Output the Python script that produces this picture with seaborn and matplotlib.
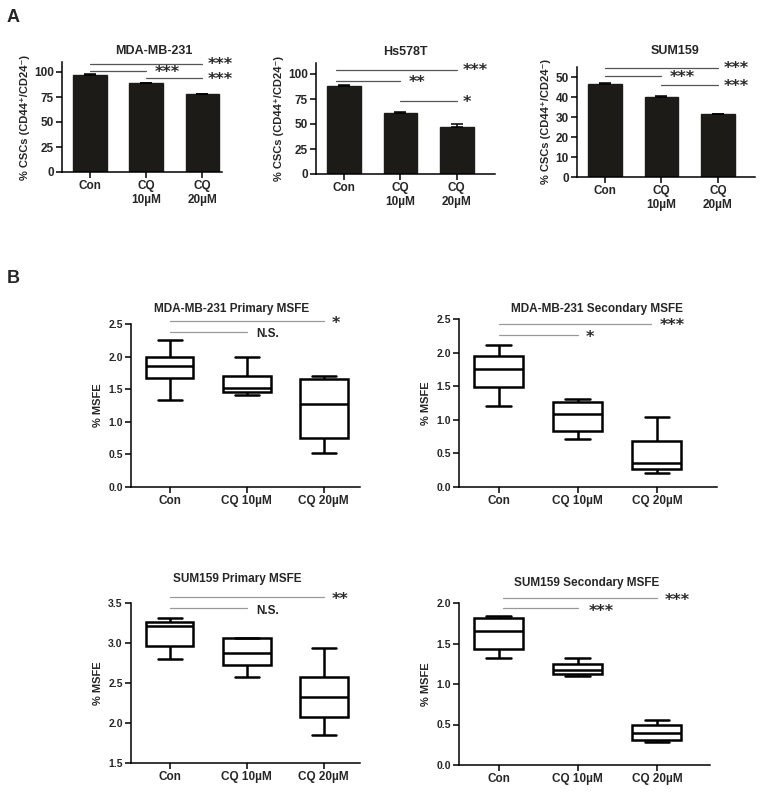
import matplotlib
matplotlib.use("Agg")
import matplotlib.pyplot as plt
import matplotlib.ticker as mticker
import numpy as np
import pandas as pd
import seaborn as sns

sns.set_theme(style="ticks")
plt.rcParams["font.family"] = ["Liberation Sans", "DejaVu Sans"]
plt.rcParams["font.weight"] = "bold"
plt.rcParams["axes.labelweight"] = "bold"
plt.rcParams["axes.edgecolor"] = "black"
plt.rcParams["axes.linewidth"] = 1.1

FIG_W, FIG_H = 762, 793

# ---- Panel A: % CSCs (CD44+/CD24-), mean + SEM ----
doses_a = ["Con", "CQ\n10µM", "CQ\n20µM"]
mda_csc = [97.0, 89.0, 78.0]
mda_csc_sem = [0.6, 0.5, 0.4]
hs_csc = [88.0, 61.0, 47.0]
hs_csc_sem = [0.6, 0.8, 3.5]
sum_csc = [46.5, 40.0, 31.5]
sum_csc_sem = [0.3, 0.4, 0.2]

# ---- Panel B: % MSFE, each list = min, Q1, median, Q3, max ----
doses_b = ["Con", "CQ 10µM", "CQ 20µM"]
mda_prim_con = [1.34, 1.665, 1.85, 2.00, 2.26]
mda_prim_cq10 = [1.41, 1.45, 1.52, 1.70, 2.00]
mda_prim_cq20 = [0.52, 0.75, 1.28, 1.655, 1.70]
mda_sec_con = [1.20, 1.49, 1.76, 1.955, 2.12]
mda_sec_cq10 = [0.71, 0.84, 1.09, 1.27, 1.31]
mda_sec_cq20 = [0.21, 0.27, 0.35, 0.68, 1.045]
sum_prim_con = [2.80, 2.96, 3.21, 3.26, 3.31]
sum_prim_cq10 = [2.57, 2.73, 2.87, 3.06, 3.06]
sum_prim_cq20 = [1.85, 2.075, 2.33, 2.57, 2.94]
sum_sec_con = [1.32, 1.435, 1.65, 1.81, 1.84]
sum_sec_cq10 = [1.10, 1.12, 1.175, 1.245, 1.32]
sum_sec_cq20 = [0.29, 0.31, 0.39, 0.49, 0.56]


def px_axes(fig, left, top, right, bottom):
    return fig.add_axes([left / FIG_W, 1 - bottom / FIG_H,
                         (right - left) / FIG_W, (bottom - top) / FIG_H])


def px_text(fig, x, y, s, **kw):
    fig.text(x / FIG_W, 1 - y / FIG_H, s, **kw)


def sig(ax, x1, x2, y, label, color, dx=0.12, dy=0.0):
    ax.plot([x1, x2], [y, y], color=color, lw=0.9, clip_on=False)
    if label.startswith("*"):
        ax.text(x2 + dx, y + dy, label, ha="left", va="center", fontsize=11.5,
                family="DejaVu Sans", fontweight="bold", color="#2a2a2a", clip_on=False)
    else:
        ax.text(x2 + dx, y + dy, label, ha="left", va="center", fontsize=8.5,
                fontweight="bold", color="#222222", clip_on=False)


def bar_panel(ax, values, sem, ylim, yticks, xmax):
    df = pd.DataFrame({"group": doses_a, "value": values})
    sns.barplot(data=df, x="group", y="value", order=doses_a, color="#1c1b18",
                saturation=1, width=0.6, edgecolor="#1c1b18", ax=ax)
    ax.errorbar(np.arange(len(values)), values,
                yerr=[np.zeros(len(sem)), sem], fmt="none", ecolor="black",
                elinewidth=1.1, capsize=4, capthick=1.1)
    ax.set_ylim(*ylim)
    ax.set_yticks(yticks)
    ax.set_xlim(-0.5, xmax)
    ax.set_xlabel("")
    ax.set_ylabel("% CSCs (CD44⁺/CD24⁻)", fontsize=8, labelpad=3)
    sns.despine(ax=ax)
    ax.tick_params(length=4, width=1.1, color="black", labelsize=8.5, pad=2)


def box_panel(ax, groups, ylim, yticks, xmax):
    df = pd.DataFrame({
        "group": np.repeat(doses_b, [len(g) for g in groups]),
        "value": np.concatenate(groups),
    })
    sns.boxplot(data=df, x="group", y="value", order=doses_b, whis=(0, 100),
                width=0.62, color="white", linecolor="black", linewidth=1.8,
                ax=ax)
    ax.set_ylim(*ylim)
    ax.set_yticks(yticks)
    ax.yaxis.set_major_formatter(mticker.FormatStrFormatter("%.1f"))
    ax.set_xlim(-0.5, xmax)
    ax.set_xlabel("")
    ax.set_ylabel("% MSFE", fontsize=8, labelpad=4)
    sns.despine(ax=ax)
    ax.tick_params(length=4, width=1.1, color="black", pad=2)
    ax.tick_params(axis="x", labelsize=8.5)
    ax.tick_params(axis="y", labelsize=7.5)


fig = plt.figure(figsize=(FIG_W / 100, FIG_H / 100), dpi=100)

# ---- A ----
a1 = px_axes(fig, 62, 62, 222, 172)
bar_panel(a1, mda_csc, mda_csc_sem, (0, 110), [0, 25, 50, 75, 100], 2.35)
sig(a1, 0, 2, 108, "***", "#555555", dx=0.1, dy=-1)
sig(a1, 0, 1, 101, "***", "#555555", dx=0.15, dy=-1.5)
sig(a1, 1, 2, 94, "***", "#555555", dx=0.1, dy=-1.5)

a2 = px_axes(fig, 316, 63, 495, 174)
bar_panel(a2, hs_csc, hs_csc_sem, (0, 111), [0, 25, 50, 75, 100], 2.68)
sig(a2, -0.15, 2.0, 104, "***", "#555555", dx=0.1, dy=-1)
sig(a2, -0.15, 1.0, 93, "**", "#555555", dx=0.15, dy=-1)
sig(a2, 1.0, 2.0, 73, "*", "#555555", dx=0.1, dy=-1)

a3 = px_axes(fig, 577, 67, 755, 177)
bar_panel(a3, sum_csc, sum_csc_sem, (0, 55), [0, 10, 20, 30, 40, 50], 2.66)
sig(a3, 0, 2, 54.5, "***", "#555555", dx=0.1, dy=-0.5)
sig(a3, 0, 1, 50.5, "***", "#555555", dx=0.15, dy=-0.8)
sig(a3, 1, 2, 46, "***", "#555555", dx=0.1, dy=-0.8)

px_text(fig, 154, 54, "MDA-MB-231", ha="center", va="baseline", fontsize=9, fontweight="bold")
px_text(fig, 405, 55, "Hs578T", ha="center", va="baseline", fontsize=9, fontweight="bold")
px_text(fig, 675, 54, "SUM159", ha="center", va="baseline", fontsize=9, fontweight="bold")

# ---- B ----
b1 = px_axes(fig, 131, 324, 360, 487)
box_panel(b1, [mda_prim_con, mda_prim_cq10, mda_prim_cq20], (0, 2.5),
          [0, 0.5, 1.0, 1.5, 2.0, 2.5], 2.47)
sig(b1, 0, 2, 2.54, "*", "#999999", dx=0.1, dy=-0.03)
sig(b1, 0, 1, 2.38, "N.S.", "#999999", dx=0.13, dy=-0.04)

b2 = px_axes(fig, 459, 319, 717, 487)
box_panel(b2, [mda_sec_con, mda_sec_cq10, mda_sec_cq20], (0, 2.5),
          [0, 0.5, 1.0, 1.5, 2.0, 2.5], 2.76)
sig(b2, 0, 1.93, 2.43, "***", "#999999", dx=0.1, dy=-0.03)
sig(b2, 0, 1, 2.26, "*", "#999999", dx=0.1, dy=-0.04)

b3 = px_axes(fig, 131, 603, 360, 763)
box_panel(b3, [sum_prim_con, sum_prim_cq10, sum_prim_cq20], (1.5, 3.5),
          [1.5, 2.0, 2.5, 3.0, 3.5], 2.47)
sig(b3, 0, 2, 3.57, "**", "#999999", dx=0.1, dy=-0.03)
sig(b3, 0, 1, 3.44, "N.S.", "#999999", dx=0.13, dy=-0.04)

b4 = px_axes(fig, 459, 603, 710, 765)
box_panel(b4, [sum_sec_con, sum_sec_cq10, sum_sec_cq20], (0, 2.0),
          [0, 0.5, 1.0, 1.5, 2.0], 2.67)
sig(b4, 0.05, 2, 2.06, "***", "#999999", dx=0.1, dy=-0.03)
sig(b4, 0.05, 1.0, 1.94, "***", "#999999", dx=0.14, dy=-0.05)

px_text(fig, 232, 312, "MDA-MB-231 Primary MSFE", ha="center", va="baseline", fontsize=8.5, fontweight="bold")
px_text(fig, 597, 312, "MDA-MB-231 Secondary MSFE", ha="center", va="baseline", fontsize=8.5, fontweight="bold")
px_text(fig, 237, 582, "SUM159 Primary MSFE", ha="center", va="baseline", fontsize=8.5, fontweight="bold")
px_text(fig, 587, 586, "SUM159 Secondary MSFE", ha="center", va="baseline", fontsize=8.5, fontweight="bold")

# panel letters
px_text(fig, 7, 22, "A", ha="left", va="baseline", fontsize=13, fontweight="bold")
px_text(fig, 7, 283, "B", ha="left", va="baseline", fontsize=13, fontweight="bold")

fig.savefig("out.png", dpi=100, facecolor="white")
